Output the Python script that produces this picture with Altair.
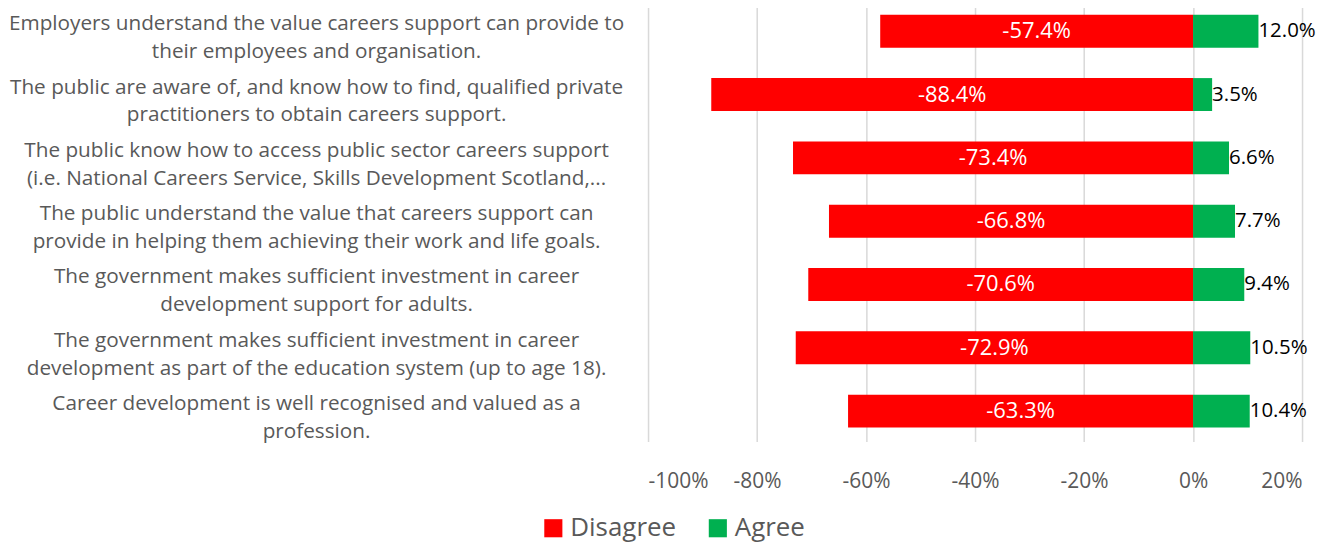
import altair as alt
import pandas as pd

categories = [
    "Employers understand the value careers support can provide to|their employees and organisation.",
    "The public are aware of, and know how to find, qualified private|practitioners to obtain careers support.",
    "The public know how to access public sector careers support|(i.e. National Careers Service, Skills Development Scotland,...",
    "The public understand the value that careers support can|provide in helping them achieving their work and life goals.",
    "The government makes sufficient investment in career|development support for adults.",
    "The government makes sufficient investment in career|development as part of the education system (up to age 18).",
    "Career development is well recognised and valued as a|profession.",
]
disagree = [-57.4, -88.4, -73.4, -66.8, -70.6, -72.9, -63.3]
agree = [12.0, 3.5, 6.6, 7.7, 9.4, 10.5, 10.4]
groups = ["Disagree", "Agree"]
tick_values = [-100, -80, -60, -40, -20, 0, 20]

rows = []
for c, d, a in zip(categories, disagree, agree):
    rows.append({"category": c, "group": "Disagree", "value": d, "label": f"{d:.1f}%"})
    rows.append({"category": c, "group": "Agree", "value": a, "label": f"{a:.1f}%"})
df = pd.DataFrame(rows)

FONT = "Open Sans"
GRAY = "#595959"

y_enc = alt.Y(
    "category:N",
    sort=categories,
    scale=alt.Scale(paddingInner=0.48, paddingOuter=0.22),
    axis=alt.Axis(
        title=None,
        labelExpr="split(datum.label, '|')",
        labelAlign="center",
        labelPadding=333,
        labelOffset=-7,
        labelLimit=800,
        labelFontSize=20.8,
        labelLineHeight=28,
        labelColor=GRAY,
        labelFont=FONT,
        ticks=False,
        domain=False,
        grid=False,
    ),
)

x_scale = alt.Scale(domain=[-100, 20], nice=False, zero=False)

base = alt.Chart(df).encode(y=y_enc)

bars = base.mark_bar().encode(
    x=alt.X(
        "value:Q",
        scale=x_scale,
        axis=alt.Axis(
            title=None,
            values=tick_values,
            labelExpr="datum.value + '%'",
            grid=True,
            gridColor="#d9d9d9",
            gridWidth=1.5,
            domain=False,
            ticks=False,
            labelFontSize=21,
            labelColor=GRAY,
            labelFont=FONT,
            labelPadding=29,
        ),
    ),
    color=alt.Color(
        "group:N",
        scale=alt.Scale(domain=groups, range=["#ff0000", "#00b050"]),
        legend=alt.Legend(
            title=None,
            orient="none",
            direction="horizontal",
            legendX=-108,
            legendY=516,
            symbolType="square",
            symbolSize=330,
            symbolStrokeWidth=0,
            labelFontSize=26,
            labelFont=FONT,
            labelColor=GRAY,
            columnPadding=28,
            symbolOffset=0,
        ),
    ),
)

dis_text = (
    base.transform_filter("datum.group == 'Disagree'")
    .transform_calculate(mid="datum.value / 2")
    .mark_text(color="white", fontSize=22, font=FONT, align="center", baseline="middle")
    .encode(x=alt.X("mid:Q", scale=x_scale), text="label:N")
)

agr_text = (
    base.transform_filter("datum.group == 'Agree'")
    .mark_text(color="black", fontSize=20.5, font=FONT, align="left", baseline="middle", dx=0)
    .encode(x=alt.X("value:Q", scale=x_scale), text="label:N")
)

chart = (
    alt.layer(bars, dis_text, agr_text)
    .properties(width=656, height=442, padding={"left": 0, "top": -8, "right": 0, "bottom": 8})
    .configure_view(stroke=None)
)

chart.save("out.html", embed_options={"renderer": "svg", "actions": False})
